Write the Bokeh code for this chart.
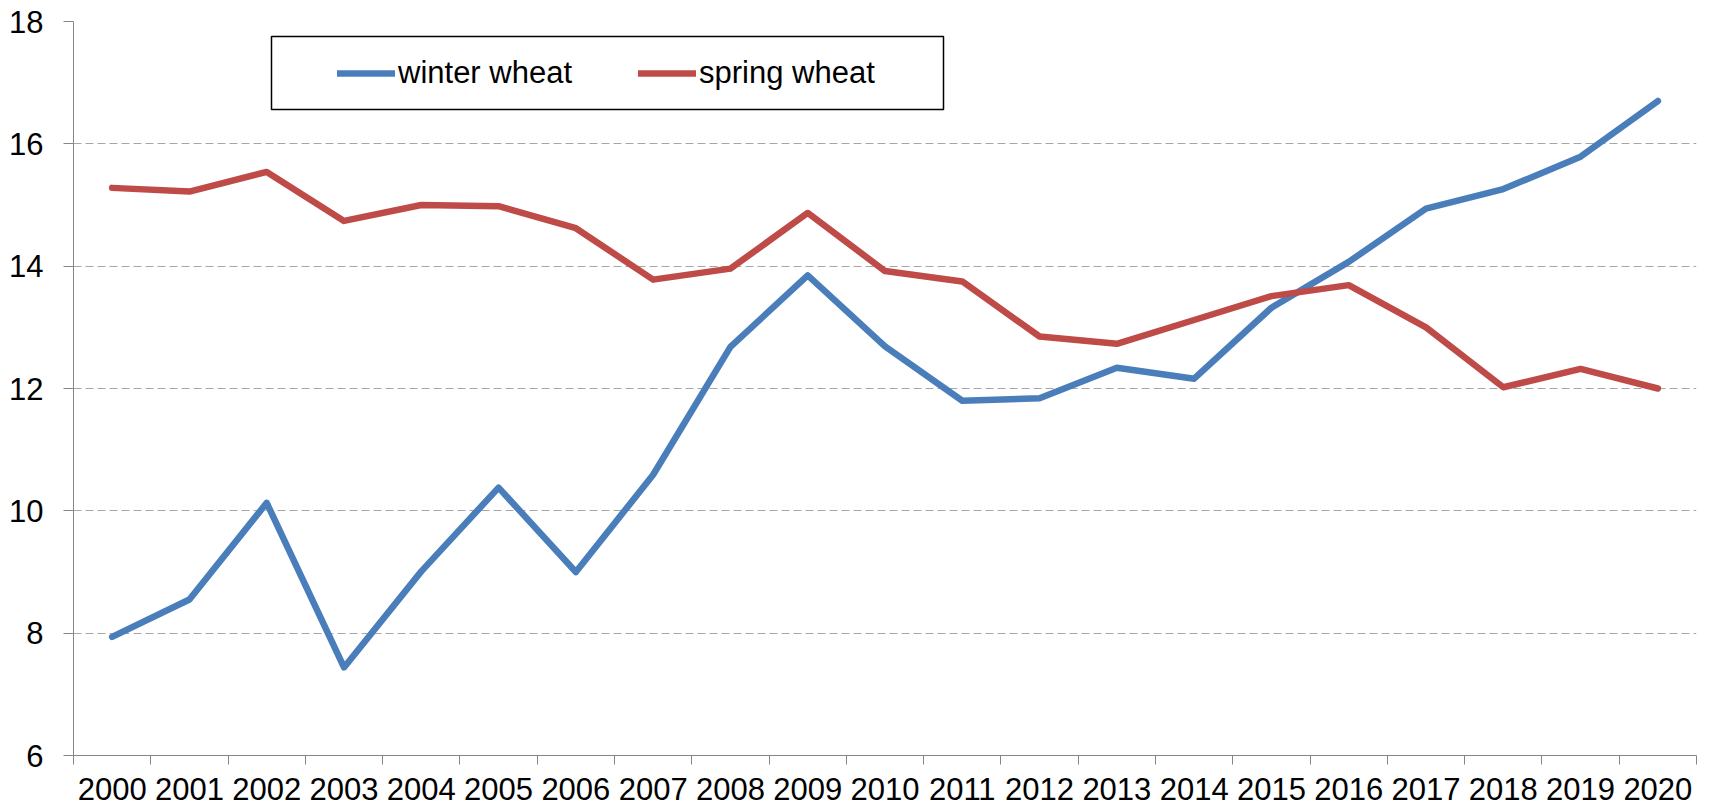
from bokeh.plotting import figure
from bokeh.models import Range1d, FixedTicker, Legend, LegendItem, BoxAnnotation
from bokeh.embed import file_html
from bokeh.resources import INLINE

years = [str(y) for y in range(2000, 2021)]
winter_wheat = [7.94, 8.55, 10.13, 7.44, 9.01, 10.38, 9.0, 10.59, 12.68, 13.85, 12.69,
                11.8, 11.84, 12.34, 12.16, 13.32, 14.07, 14.94, 15.26, 15.79, 16.7]
spring_wheat = [15.28, 15.22, 15.54, 14.74, 15.0, 14.98, 14.62, 13.78, 13.96, 14.87, 13.92,
                13.75, 12.85, 12.73, 13.12, 13.51, 13.69, 13.0, 12.02, 12.32, 12.0]
y_ticks = [6, 8, 10, 12, 14, 16, 18]

xs = [i + 0.5 for i in range(len(years))]
FONT = "Liberation Sans"

p = figure(width=1700, height=809, output_backend="svg", toolbar_location=None,
           x_range=Range1d(0, len(years)), y_range=Range1d(6, 18),
           min_border_left=73, min_border_right=4, min_border_top=21, min_border_bottom=54)
p.outline_line_color = None
p.xgrid.grid_line_color = None
p.ygrid.grid_line_color = "#A6A6A6"
p.ygrid.grid_line_dash = "8 4"
p.ygrid.grid_line_width = 1

# y axis
p.yaxis.ticker = FixedTicker(ticks=y_ticks)
p.yaxis.axis_line_color = "#868686"
p.yaxis.major_tick_line_color = "#868686"
p.yaxis.major_tick_out = 10
p.yaxis.major_tick_in = 0
p.yaxis.minor_tick_line_color = None
p.yaxis.major_label_text_font = FONT
p.yaxis.major_label_text_font_size = "31px"
p.yaxis.major_label_text_color = "black"
p.yaxis.major_label_standoff = 20

# x axis: labels at centers, ticks at boundaries
p.xaxis.ticker = FixedTicker(ticks=xs, minor_ticks=list(range(len(years) + 1)))
p.xaxis.major_label_overrides = {x: y for x, y in zip(xs, years)}
p.xaxis.axis_line_color = "#868686"
p.xaxis.major_tick_line_color = None
p.xaxis.major_tick_out = 9
p.xaxis.major_tick_in = 0
p.xaxis.minor_tick_line_color = "#868686"
p.xaxis.minor_tick_out = 9
p.xaxis.minor_tick_in = 0
p.xaxis.major_label_text_font = FONT
p.xaxis.major_label_text_font_size = "31px"
p.xaxis.major_label_text_color = "black"
p.xaxis.major_label_standoff = 13

r1 = p.line(xs, winter_wheat, line_color="#4A7EBB", line_width=6.5, line_join="round", line_cap="round")
r2 = p.line(xs, spring_wheat, line_color="#BE4B48", line_width=6.5, line_join="round", line_cap="round")

# legend frame
frame_box = BoxAnnotation(left=271, right=943, top=36, bottom=109,
                          left_units="canvas", right_units="canvas",
                          top_units="canvas", bottom_units="canvas",
                          fill_color="white", fill_alpha=1.0,
                          line_color="black", line_width=1.5, line_alpha=1.0)
p.add_layout(frame_box)

legend = Legend(items=[LegendItem(label="winter wheat", renderers=[r1]),
                       LegendItem(label="spring wheat", renderers=[r2])],
                orientation="horizontal")
legend.border_line_color = None
legend.background_fill_alpha = 0
legend.padding = 0
legend.spacing = 66
legend.glyph_width = 58
legend.glyph_height = 36
legend.label_height = 36
legend.label_standoff = 3
legend.label_text_font = FONT
legend.label_text_font_size = "31px"
legend.label_text_color = "black"
legend.margin = 0
p.add_layout(legend, "center")
# legend's bottom-left corner, in px from the frame's bottom-left
legend.location = (337 - 73, 734 - (55 - 21) - 36)

open("out.html", "w").write(file_html(p, INLINE))
